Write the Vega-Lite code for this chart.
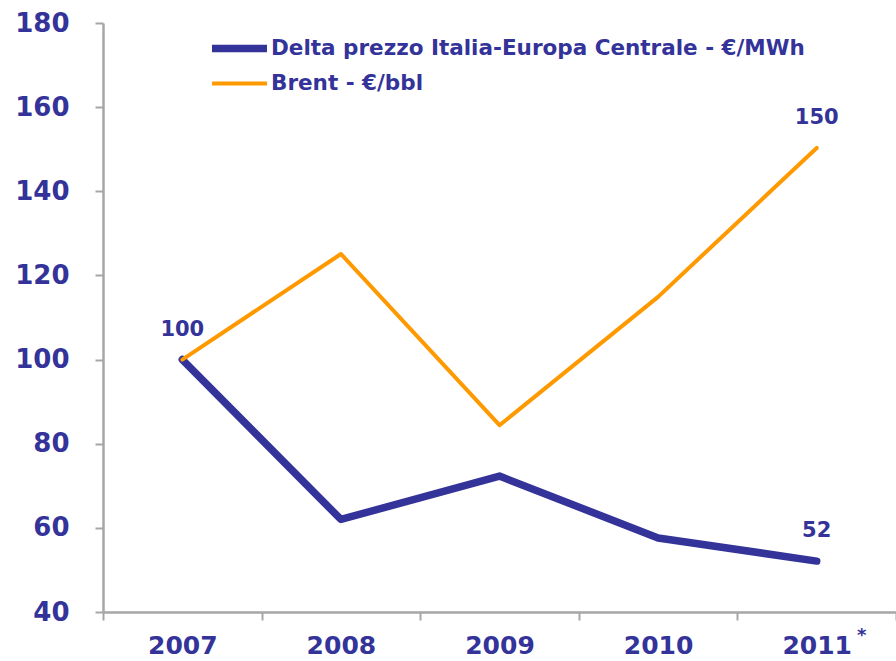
{
  "$schema": "https://vega.github.io/schema/vega-lite/v6.json",
  "autosize": {"type": "none"},
  "width": 793,
  "height": 589,
  "padding": {"left": 103, "top": 23, "right": 0, "bottom": 49},
  "background": "white",
  "config": {
    "view": {"stroke": null},
    "font": "DejaVu Sans",
    "axis": {"grid": false, "domainColor": "#a6a6a6", "domainWidth": 2.5, "tickColor": "#a6a6a6", "tickWidth": 2, "labelColor": "#333399", "labelFont": "DejaVu Sans", "labelFontWeight": "bold", "title": null}
  },
  "datasets": {
    "lines": [
      {"year": "2007", "value": 100, "series": "Delta prezzo Italia-Europa Centrale - €/MWh"},
      {"year": "2008", "value": 62, "series": "Delta prezzo Italia-Europa Centrale - €/MWh"},
      {"year": "2009", "value": 72.3, "series": "Delta prezzo Italia-Europa Centrale - €/MWh"},
      {"year": "2010", "value": 57.6, "series": "Delta prezzo Italia-Europa Centrale - €/MWh"},
      {"year": "2011", "value": 52.1, "series": "Delta prezzo Italia-Europa Centrale - €/MWh"},
      {"year": "2007", "value": 100, "series": "Brent - €/bbl"},
      {"year": "2008", "value": 125.1, "series": "Brent - €/bbl"},
      {"year": "2009", "value": 84.4, "series": "Brent - €/bbl"},
      {"year": "2010", "value": 114.9, "series": "Brent - €/bbl"},
      {"year": "2011", "value": 150.3, "series": "Brent - €/bbl"}
    ],
    "labels": [
      {"year": "2007", "value": 100, "label": "100"},
      {"year": "2011", "value": 150.3, "label": "150"},
      {"year": "2011", "value": 52.1, "label": "52"}
    ],
    "star": [
      {"year": "2011", "value": 34.3, "label": "*"}
    ]
  },
  "layer": [
    {
      "data": {"name": "lines"},
      "mark": {"type": "line", "strokeCap": "round", "strokeJoin": "round", "clip": false},
      "encoding": {
        "x": {"field": "year", "type": "nominal", "scale": {"type": "band", "paddingInner": 0, "paddingOuter": 0}, "axis": {"labelAngle": 0, "tickBand": "extent", "tickSize": 8, "labelFontSize": 25, "labelPadding": 13}},
        "y": {"field": "value", "type": "quantitative", "scale": {"domain": [40, 180], "nice": false, "zero": false}, "axis": {"values": [40, 60, 80, 100, 120, 140, 160, 180], "tickSize": 8, "labelFontSize": 26, "labelPadding": 26}},
        "color": {"field": "series", "type": "nominal", "sort": ["Delta prezzo Italia-Europa Centrale - €/MWh", "Brent - €/bbl"], "scale": {"domain": ["Delta prezzo Italia-Europa Centrale - €/MWh", "Brent - €/bbl"], "range": ["#333399", "#ff9900"]}, "legend": {"orient": "none", "legendX": 119, "legendY": 8, "title": null, "symbolType": "M-2,0H2", "symbolSize": 756, "labelFontSize": 21.5, "labelFont": "DejaVu Sans", "labelFontWeight": "bold", "labelColor": "#333399", "rowPadding": 3.5, "labelOffset": 14, "labelLimit": 800}},
        "strokeWidth": {"field": "series", "type": "nominal", "sort": ["Delta prezzo Italia-Europa Centrale - €/MWh", "Brent - €/bbl"], "scale": {"domain": ["Delta prezzo Italia-Europa Centrale - €/MWh", "Brent - €/bbl"], "range": [7.5, 4]}, "legend": null}
      }
    },
    {
      "data": {"name": "labels"},
      "mark": {"type": "text", "dy": -30, "fontSize": 21, "fontWeight": "bold", "color": "#333399", "font": "DejaVu Sans"},
      "encoding": {
        "x": {"field": "year", "type": "nominal"},
        "y": {"field": "value", "type": "quantitative"},
        "text": {"field": "label"}
      }
    },
    {
      "data": {"name": "star"},
      "mark": {"type": "text", "dx": 45, "fontSize": 18, "fontWeight": "bold", "color": "#333399", "font": "DejaVu Sans", "clip": false},
      "encoding": {
        "x": {"field": "year", "type": "nominal"},
        "y": {"field": "value", "type": "quantitative"},
        "text": {"field": "label"}
      }
    }
  ]
}
